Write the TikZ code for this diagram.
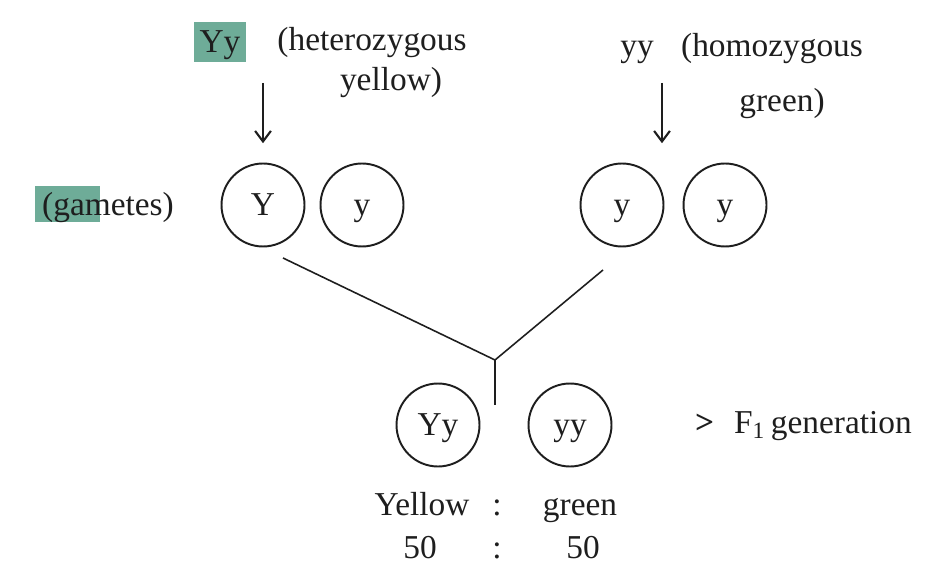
\documentclass[tikz,border=0pt]{standalone}
\usepackage{fontspec}
\setmainfont{Liberation Serif}
\usetikzlibrary{arrows.meta, positioning, calc}
\definecolor{hlgreen}{RGB}{110,172,152}
\definecolor{inkgray}{RGB}{30,30,30}

\begin{document}
\begin{tikzpicture}[
  x=0.02cm, y=-0.02cm,
  allele/.style={circle, draw=inkgray, line width=1.1pt, minimum size=1.66cm,
               inner sep=0pt, text=inkgray, text height=12.5pt, text depth=0pt,
               font=\fontsize{19}{22}\selectfont},
  lbl/.style={inner sep=1pt, text=inkgray, text height=12.5pt, text depth=0pt,
               font=\fontsize{19}{22}\selectfont},
  arrow/.style={-{Straight Barb[length=6pt,width=9pt]}, line width=1.2pt, color=inkgray},
  link/.style={line width=0.9pt, color=inkgray},
]
  \useasboundingbox (0,0) rectangle (925,567);

  % Parents
  \node[lbl, fill=hlgreen, inner ysep=5pt, inner xsep=3pt] (Yy) at (220,42) {Yy};
  \node[lbl] (het) at (372,40) {(heterozygous};
  \node[lbl] (hetb) at (391,80) {yellow)};
  \node[lbl] (yy) at (637,46) {yy};
  \node[lbl] (hom) at (772,46) {(homozygous};
  \node[lbl] (homb) at (782,101) {green)};

  % Gametes
  \fill[hlgreen] (35,186) rectangle (100,222);
  \node[lbl] (gam) at (108,205) {(gametes)};
  \node[allele] (gY) at (263,205) {Y};
  \node[allele] (gya) at (362,205) {y};
  \node[allele] (gyb) at (622,205) {y};
  \node[allele] (gyc) at (725,205) {y};

  % F1 offspring
  \node[allele] (fYy) at (438,425) {Yy};
  \node[allele] (fyy) at (570,425) {yy};
  \node[lbl, anchor=west] (gen) at (693,423) {\textbf{>}\hspace{0.6em}F\textsubscript{1}\,generation};

  % Ratio
  \node[lbl] (yel) at (422,505) {Yellow};
  \node[lbl] (c1) at (497,505) {:};
  \node[lbl] (grn) at (580,505) {green};
  \node[lbl] (n1) at (420,548) {50};
  \node[lbl] (c2) at (497,548) {:};
  \node[lbl] (n2) at (583,548) {50};

  % Connectors
  \coordinate (pY) at (263,83);
  \coordinate (py) at (662,83);
  \coordinate (lY) at (283,258);
  \coordinate (ly) at (603,270);
  \coordinate (mid) at (495,360);
  \coordinate (down) at (495,405);
  \draw[arrow, shorten >=11pt] (pY) -- (pY |- gY.north);
  \draw[arrow, shorten >=11pt] (py) -- (py |- gyb.north);
  \draw[link] (lY) -- (mid) -- (ly);
  \draw[link] (mid) -- (down);
\end{tikzpicture}
\end{document}
